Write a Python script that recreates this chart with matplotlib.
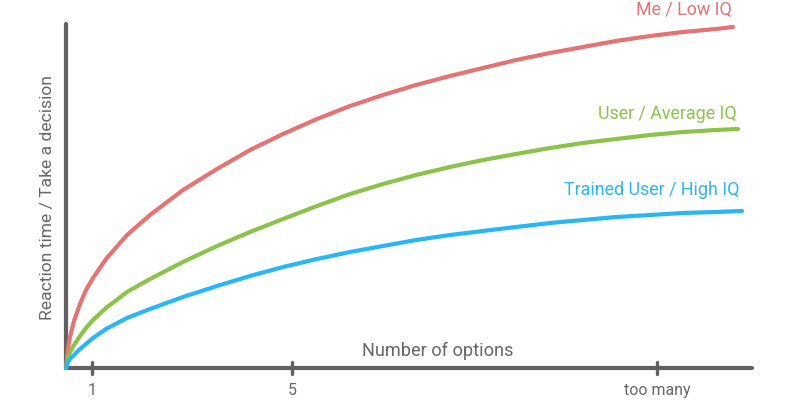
import matplotlib
matplotlib.use("Agg")
import matplotlib.pyplot as plt
from matplotlib.markers import MarkerStyle

plt.rcParams['font.family'] = ['Roboto', 'DejaVu Sans']

# Data (arbitrary units)
red_x = [0, 2, 4, 8, 14, 20, 27, 40, 61, 84, 117, 151, 184, 217, 251, 284, 317, 350,
         384, 417, 450, 484, 517, 550, 584, 617, 650, 667]
red_y = [0, 20, 31, 47, 64, 78, 90, 109, 133, 153, 178, 199, 218, 234, 249, 262, 273, 283,
         292, 300, 308, 315, 321, 327, 332, 336, 339, 341]

green_x = [0, 2, 4, 8, 14, 20, 27, 40, 61, 84, 117, 151, 184, 217, 251, 284, 317, 350,
           384, 417, 450, 484, 517, 550, 584, 617, 650, 672]
green_y = [0, 10, 16, 23, 32, 40, 48, 60, 76, 89, 106, 122, 136, 149, 162, 174, 184, 193,
           201, 208, 214, 220, 225, 229, 233, 236, 238, 239]

blue_x = [0, 2, 4, 8, 14, 20, 27, 40, 61, 84, 117, 151, 184, 217, 251, 284, 317, 350,
          384, 417, 450, 484, 517, 550, 584, 617, 650, 676]
blue_y = [0, 6, 9, 13, 19, 24, 30, 39, 50, 59, 71, 82, 92, 101, 109, 116, 122, 128,
          133, 137, 141, 145, 148, 151, 153, 155, 156, 157]

series_names = ["Me / Low IQ", "User / Average IQ", "Trained User / High IQ"]
colors = ["#E57373", "#8BC34A", "#29B6F6"]

tick_pos = [26, 226, 591]
tick_labels = ["1", "5", "too many"]

axis_color = "#616161"
text_color = "#666666"

fig = plt.figure(figsize=(8, 4), dpi=100)
ax = fig.add_axes([66 / 800, 32 / 400, 686 / 800, 344 / 400])
ax.set_xlim(0, 686)
ax.set_ylim(0, 344)

for xs, ys, c in zip([red_x, green_x, blue_x], [red_y, green_y, blue_y], colors):
    ax.plot(xs, ys, color=c, lw=3.0, solid_capstyle='round', solid_joinstyle='round',
            clip_on=False, zorder=3)

# Series labels
label_pos = [(666, 358), (671, 254), (674, 178)]
for name, c, (lx, ly) in zip(series_names, colors, label_pos):
    ax.text(lx, ly, name, color=c, fontsize=12.9, ha='right', va='center', clip_on=False)

for s in ['top', 'right']:
    ax.spines[s].set_visible(False)
for s in ['left', 'bottom']:
    ax.spines[s].set_color(axis_color)
    ax.spines[s].set_linewidth(3.0)
    ax.spines[s].set_capstyle('round')
    ax.spines[s].set_zorder(2)

ax.set_yticks([])
ax.set_xticks(tick_pos)
ax.set_xticklabels(tick_labels)
ax.tick_params(axis='x', direction='inout', length=8.5, width=2.4, color=axis_color,
               labelcolor=text_color, labelsize=11.4, pad=6.5)
for tl in ax.xaxis.get_ticklines():
    tl.set_marker(MarkerStyle(tl.get_marker(), capstyle='round'))

ax.text(372, 17, "Number of options", color=text_color, fontsize=13.1,
        ha='center', va='center')
ax.text((48 - 66) / 686, (368 - 198) / 344, "Reaction time / Take a decision",
        transform=ax.transAxes, rotation=90, color=text_color, fontsize=12.6,
        ha='center', va='center')

fig.savefig("out.png", dpi=100)
